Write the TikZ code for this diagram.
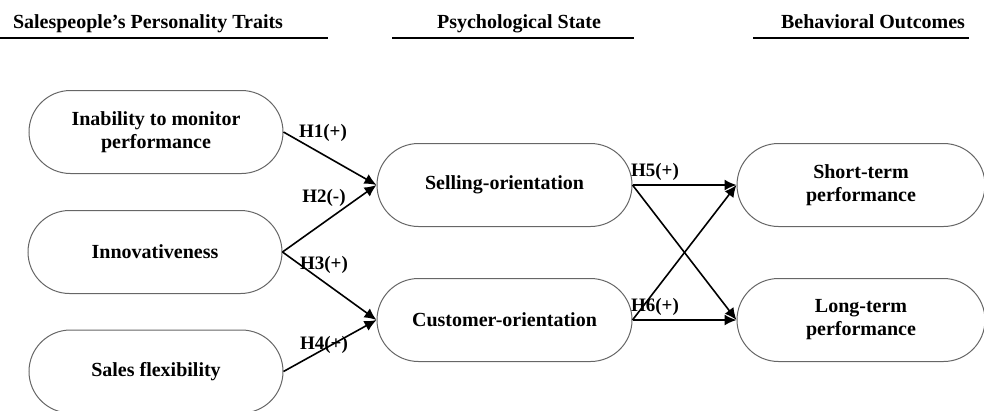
\documentclass[tikz,border=0pt]{standalone}
\usepackage{fontspec}
\setmainfont{Liberation Serif}
\usetikzlibrary{arrows.meta}
\begin{document}
\begin{tikzpicture}[x=1pt,y=-1pt,
 stadium/.style={draw=black!60, line width=1pt, rounded corners=41.5pt, minimum width=254pt, minimum height=83pt, align=center, font=\fontsize{20}{23}\selectfont\bfseries, inner sep=0pt},
 header/.style={font=\fontsize{20}{24}\selectfont\bfseries, anchor=base, inner sep=0pt},
 hline/.style={line width=2pt},
 link/.style={line width=1.6pt, -{Latex[length=12pt,width=11pt]}},
 hlab/.style={font=\fontsize{19}{21}\selectfont\bfseries, inner sep=0pt}]
\useasboundingbox (0,0) rectangle (984,410);
\clip (0,0) rectangle (984,410);
% headers
\node[header] (t1) at (148,28) {Salespeople’s Personality Traits};
\node[header] (t2) at (519,28) {Psychological State};
\node[header] (t3) at (873,28) {Behavioral Outcomes};
\coordinate (l1a) at (0,38); \coordinate (l1b) at (328,38);
\coordinate (l2a) at (392,38); \coordinate (l2b) at (634,38);
\coordinate (l3a) at (753,38); \coordinate (l3b) at (969,38);
\draw[hline] (l1a) -- (l1b);
\draw[hline] (l2a) -- (l2b);
\draw[hline] (l3a) -- (l3b);
% nodes
\node[stadium] (inab) at (156,132) {Inability to monitor\\performance};
\node[stadium] (innov) at (155,252) {Innovativeness};
\node[stadium] (flex) at (156,371.5) {Sales flexibility};
\node[stadium, minimum width=255pt] (sell) at (504.5,185) {Selling-orientation};
\node[stadium, minimum width=255pt] (cust) at (504.5,320) {Customer-orientation};
\node[stadium, minimum width=248pt] (short) at (861,185) {Short-term\\performance};
\node[stadium, minimum width=248pt] (long) at (861,320) {Long-term\\performance};
% labels
\node[hlab] (h1) at (323,133) {H1(+)};
\node[hlab] (h2) at (324,198) {H2(-)};
\node[hlab] (h3) at (324,265) {H3(+)};
\node[hlab] (h4) at (324,345) {H4(+)};
\node[hlab] (h5) at (655,172) {H5(+)};
\node[hlab] (h6) at (655,307) {H6(+)};
% arrows
\draw[link] (inab.east) -- (sell.west);
\draw[link] (innov.east) -- (sell.west);
\draw[link] (innov.east) -- (cust.west);
\draw[link] (flex.east) -- (cust.west);
\draw[link] (sell.east) -- (short.west);
\draw[link] (sell.east) -- (long.west);
\draw[link] (cust.east) -- (short.west);
\draw[link] (cust.east) -- (long.west);
\end{tikzpicture}
\end{document}
